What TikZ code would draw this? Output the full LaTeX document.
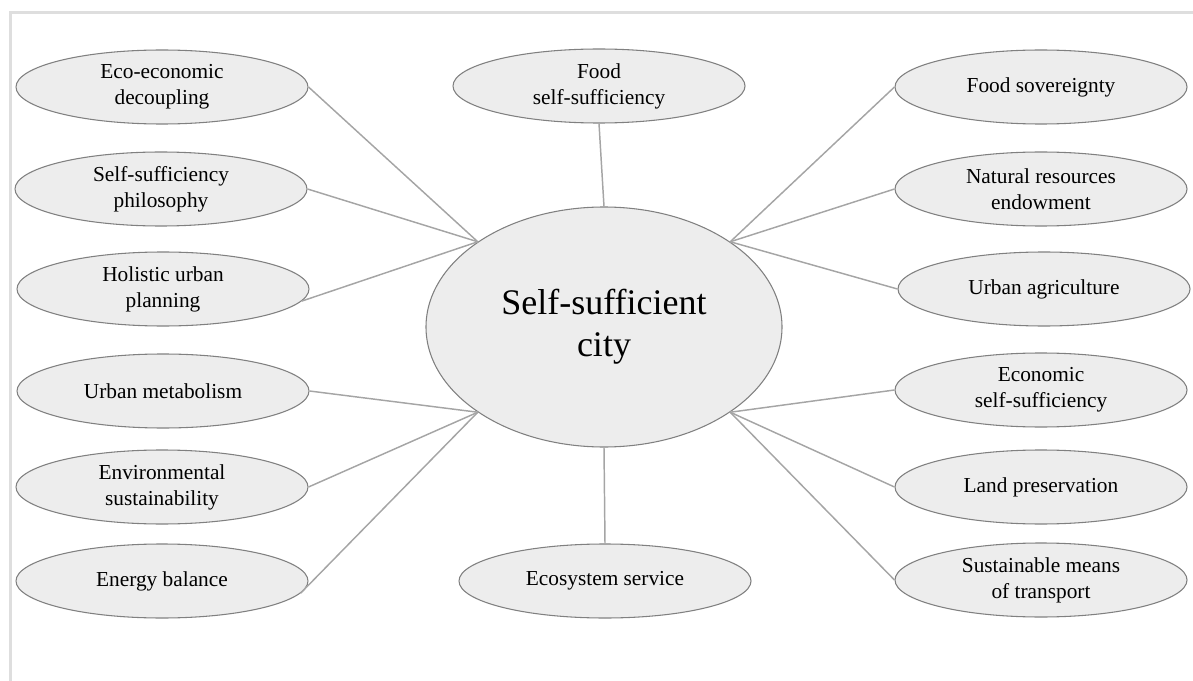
\documentclass[tikz,border=0pt]{standalone}
\usepackage{fontspec}
\setmainfont{Liberation Serif}
\usepackage{tikz}
\usetikzlibrary{shapes.geometric}

\definecolor{bubblefill}{RGB}{237,237,237}
\definecolor{bubbleline}{RGB}{128,128,128}
\definecolor{linkline}{RGB}{165,165,165}
\definecolor{framegray}{RGB}{222,222,222}

\begin{document}
\begin{tikzpicture}[x=0.75pt, y=-0.75pt,
  bubble/.style={ellipse, draw=bubbleline, fill=bubblefill, line width=0.8pt, inner sep=0pt,
    minimum width=219pt, minimum height=55.5pt, align=center,
    font=\fontsize{16}{19.5}\selectfont},
  hub/.style={bubble, minimum width=267pt, minimum height=180pt,
    font=\fontsize{27}{31.5}\selectfont},
  link/.style={draw=linkline, line width=1.1pt}]
  \useasboundingbox (0,0) rectangle (1193,681);
  % Frame
  \draw[framegray, line width=2pt] (10.5,681) -- (10.5,12.5) -- (1193,12.5);

  % Nodes
  \node[hub] (city) at (604,327) {Self-sufficient\\city};
  \node[bubble] (food) at (599,86) {Food\\self-sufficiency};
  \node[bubble] (ecos) at (605,581) {Ecosystem service};

  \node[bubble] (eco) at (162,87) {Eco-economic\\decoupling};
  \node[bubble] (phil) at (161,189) {Self-sufficiency\\philosophy};
  \node[bubble] (holi) at (163,289) {Holistic urban\\planning};
  \node[bubble] (meta) at (163,391) {Urban metabolism};
  \node[bubble] (envi) at (162,487) {Environmental\\sustainability};
  \node[bubble] (ener) at (162,581) {Energy balance};

  \node[bubble] (fsov) at (1041,87) {Food sovereignty};
  \node[bubble] (natr) at (1041,189) {Natural resources\\endowment};
  \node[bubble] (uagr) at (1044,289) {Urban agriculture};
  \node[bubble] (econ) at (1041,390) {Economic\\self-sufficiency};
  \node[bubble] (land) at (1041,487) {Land preservation};
  \node[bubble] (tran) at (1041,580) {Sustainable means\\of transport};

  % Links
  \draw[link] (food.south) -- (city.north);
  \draw[link] (ecos.north) -- (city.south);
  \draw[link] (eco.east) -- (city.north west);
  \draw[link] (phil.east) -- (city.north west);
  \draw[link] (holi.-5) -- (city.north west);
  \draw[link] (meta.east) -- (city.south west);
  \draw[link] (envi.east) -- (city.south west);
  \draw[link] (ener.-5) -- (city.south west);
  \draw[link] (fsov.west) -- (city.north east);
  \draw[link] (natr.west) -- (city.north east);
  \draw[link] (uagr.west) -- (city.north east);
  \draw[link] (econ.west) -- (city.south east);
  \draw[link] (land.west) -- (city.south east);
  \draw[link] (tran.west) -- (city.south east);

\end{tikzpicture}
\end{document}
